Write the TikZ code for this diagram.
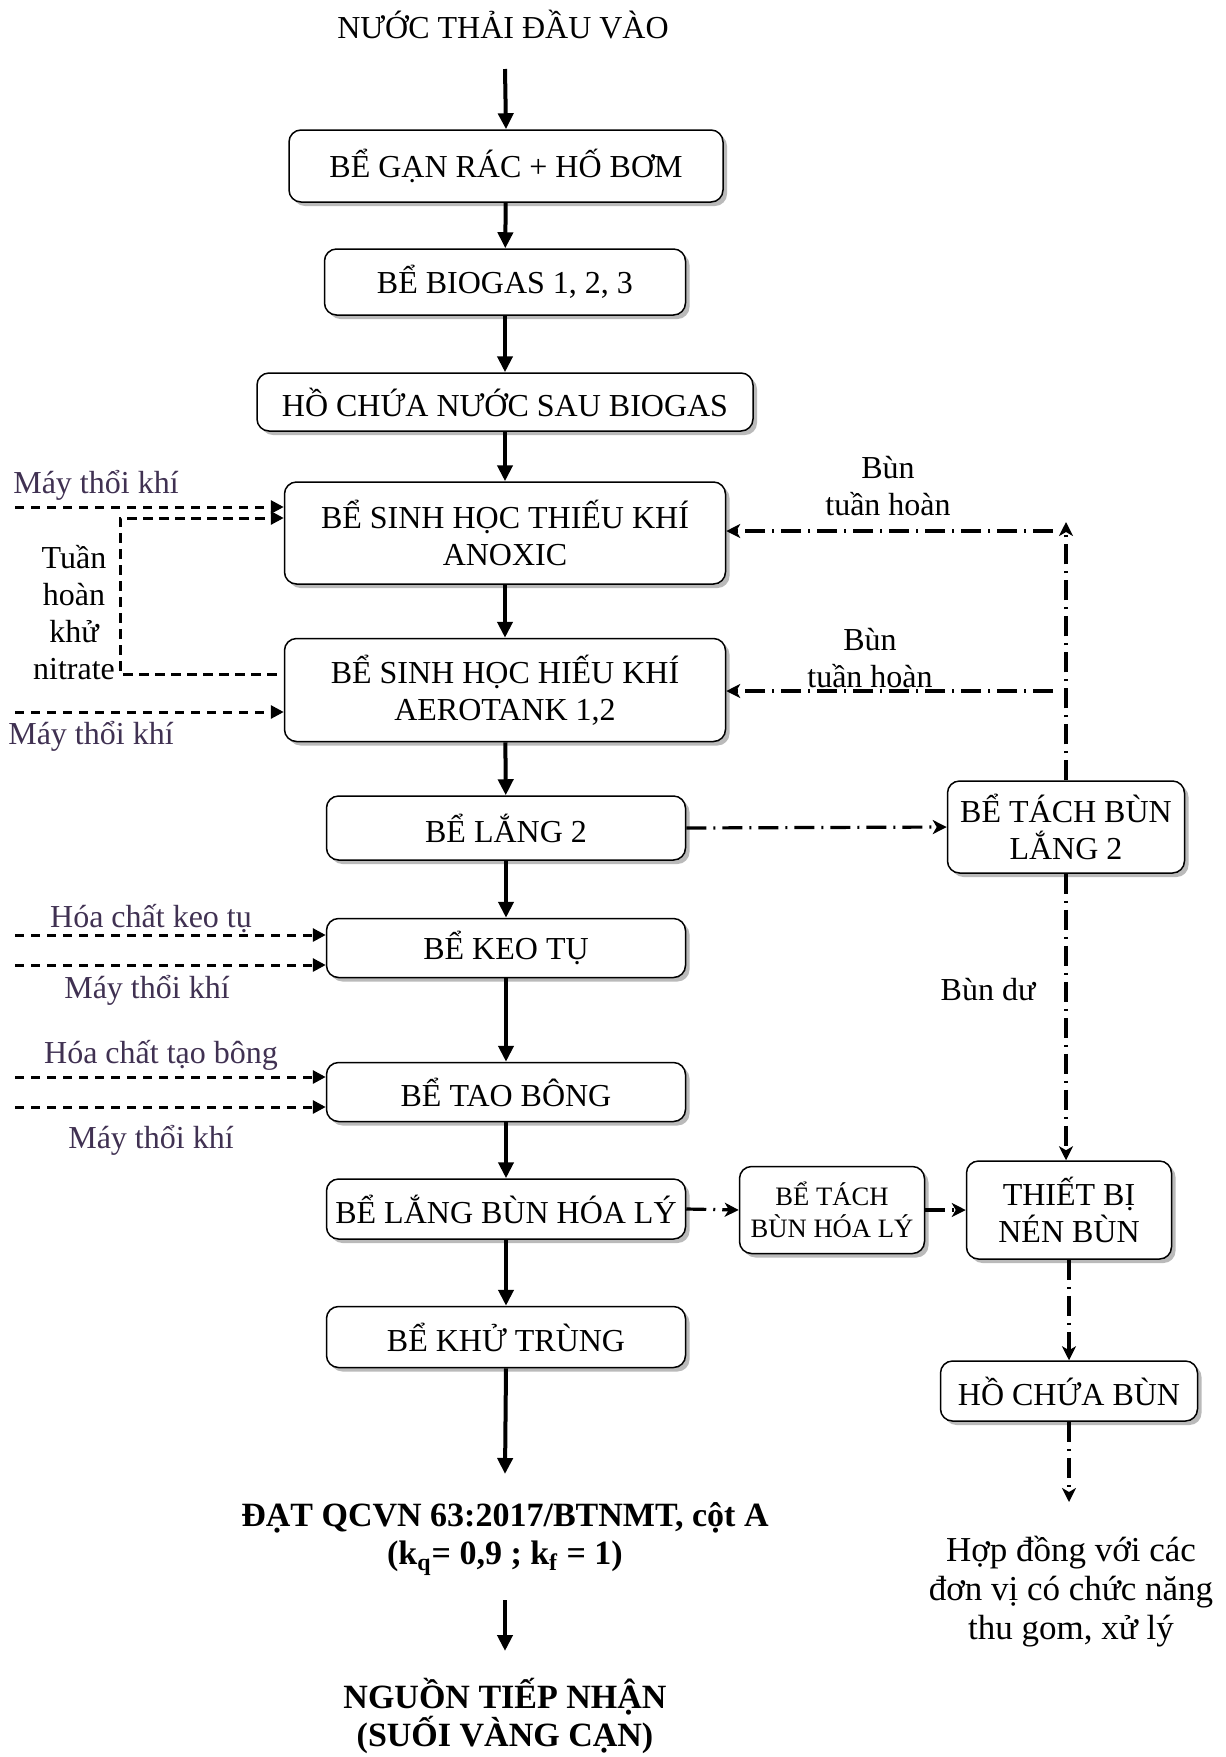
\documentclass[tikz,border=0pt]{standalone}
\usepackage{fontspec}
\setmainfont{Liberation Serif}
\usetikzlibrary{arrows.meta,shadows}
\definecolor{feedtxt}{RGB}{64,49,82}

\begin{document}
\begin{tikzpicture}[x=0.5pt,y=-0.5pt,
  box/.style={draw, rounded corners=6pt, fill=white, line width=0.75pt,
    align=center, inner sep=0pt, font=\fontsize{16}{18.5}\selectfont,
    drop shadow={shadow xshift=2pt, shadow yshift=-2pt, fill=black!27, opacity=1}},
  smallbox/.style={box, font=\fontsize{13.3}{16.3}\selectfont},
  txt/.style={align=center, inner sep=0pt, font=\fontsize{16}{18.5}\selectfont},
  feedlbl/.style={txt, text=feedtxt},
  bold/.style={align=center, inner sep=0pt, font=\fontsize{17}{19}\selectfont\bfseries},
  flow/.style={line width=2pt, -{Triangle[length=8pt,width=7.5pt]}},
  feed/.style={line width=1.5pt, dash pattern=on 4.7pt off 3.3pt, -{Triangle[length=6.5pt,width=6.5pt]}},
  sludge/.style={line width=1.6pt, dash pattern=on 10pt off 3.5pt on 1pt off 3.5pt, -{Stealth[length=7pt,width=7pt,inset=2pt]}}
]
\useasboundingbox (0,0) rectangle (1226,1757);

% main treatment line
\node[txt] (inflow) at (503,25) {NƯỚC THẢI ĐẦU VÀO};
\node[box, minimum width=217pt, minimum height=36pt] (b1) at (506,166) {BỂ GẠN RÁC + HỐ BƠM};
\node[box, minimum width=180.5pt, minimum height=33pt] (b2) at (505,282) {BỂ BIOGAS 1, 2, 3};
\node[box, minimum width=248pt, minimum height=29pt] (b3) at (505,402) {HỒ CHỨA NƯỚC SAU BIOGAS};
\node[box, minimum width=220.5pt, minimum height=51pt] (b4) at (505,533) {BỂ SINH HỌC THIẾU KHÍ\\ANOXIC};
\node[box, minimum width=220.5pt, minimum height=51.5pt] (b5) at (505,690) {BỂ SINH HỌC HIẾU KHÍ\\AEROTANK 1,2};
\node[box, minimum width=179.5pt, minimum height=32pt] (b6) at (506,828) {BỂ LẮNG 2};
\node[box, minimum width=179.5pt, minimum height=29.5pt] (b7) at (506,948) {BỂ KEO TỤ};
\node[box, minimum width=179.5pt, minimum height=29.5pt] (b8) at (506,1092) {BỂ TAO BÔNG};
\node[box, minimum width=179.5pt, minimum height=30pt] (b9) at (506,1209) {BỂ LẮNG BÙN HÓA LÝ};
\node[box, minimum width=179.5pt, minimum height=30.5pt] (b10) at (506,1337) {BỂ KHỬ TRÙNG};
\node[bold] (std) at (505,1539) {ĐẠT QCVN 63:2017/BTNMT, cột A\\(k\textsubscript{q}= 0,9 ; k\textsubscript{f} = 1)};
\node[bold] (recv) at (505,1716) {NGUỒN TIẾP NHẬN\\(SUỐI VÀNG CẠN)};

% sludge line
\node[box, minimum width=118.5pt, minimum height=46pt] (s1) at (1066,827) {BỂ TÁCH BÙN\\LẮNG 2};
\node[smallbox, minimum width=92.5pt, minimum height=43.5pt] (s2) at (832,1210) {BỂ TÁCH\\BÙN HÓA LÝ};
\node[box, minimum width=102.5pt, minimum height=49pt] (s3) at (1069,1210) {THIẾT BỊ\\NÉN BÙN};
\node[box, minimum width=128.5pt, minimum height=30pt] (s4) at (1069,1391) {HỒ CHỨA BÙN};
\node[align=center, inner sep=0pt, font=\fontsize{17.5}{19.5}\selectfont] (contract) at (1071,1592) {Hợp đồng với các\\đơn vị có chức năng\\thu gom, xử lý};

% water flow arrows
\coordinate (inA) at (505,69);
\draw[flow] (inA) -- (b1.north);
\draw[flow] (b1) -- (b2);
\draw[flow] (b2) -- (b3);
\draw[flow] (b3) -- (b4);
\draw[flow] (b4) -- (b5);
\draw[flow] (b5) -- (b6);
\draw[flow] (b6) -- (b7);
\draw[flow] (b7) -- (b8);
\draw[flow] (b8) -- (b9);
\draw[flow] (b9) -- (b10);
\coordinate (outA) at (505,1474);
\draw[flow] (b10.south) -- (outA);
\coordinate (outB) at (505,1600);
\coordinate (outC) at (505,1651);
\draw[flow] (outB) -- (outC);

% air and chemical feeds
\node[feedlbl] (air1) at (96,485) {Máy thổi khí};
\coordinate (f1) at (15,507);
\draw[feed] (f1) -- (f1 -| b4.west);
\coordinate (rc) at (120,518);
\draw[feed] ([xshift=-3.5pt,yshift=8pt]b5.west) -| (rc) -- (rc -| b4.west);
\node[txt] (nitr) at (74,613) {Tuần\\hoàn\\khử\\nitrate};
\coordinate (f2) at (15,712);
\draw[feed] (f2) -- (f2 -| b5.west);
\node[feedlbl] (air2) at (91,736) {Máy thổi khí};

\node[feedlbl] (chem1) at (151,919) {Hóa chất keo tụ};
\coordinate (f3) at (15,935);
\draw[feed] (f3) -- (f3 -| b7.west);
\coordinate (f4) at (15,965);
\draw[feed] (f4) -- (f4 -| b7.west);
\node[feedlbl] (air3) at (147,990) {Máy thổi khí};

\node[feedlbl] (chem2) at (161,1055) {Hóa chất tạo bông};
\coordinate (f5) at (15,1077);
\draw[feed] (f5) -- (f5 -| b8.west);
\coordinate (f6) at (15,1107);
\draw[feed] (f6) -- (f6 -| b8.west);
\node[feedlbl] (air4) at (151,1140) {Máy thổi khí};

% sludge return and handling
\coordinate (up) at (1065,522);
\draw[sludge] (s1.north) -- (s1.north |- up);
\coordinate (r1) at (1053,531);
\draw[sludge] (r1) -- (r1 -| b4.east);
\coordinate (r2) at (1053,691);
\draw[sludge] (r2) -- (r2 -| b5.east);
\node[txt] (ret1) at (888,486) {Bùn\\tuần hoàn};
\node[txt] (ret2) at (870,658) {Bùn\\tuần hoàn};
\draw[sludge] (b6.east) -- (s1.west);
\draw[sludge] (s1.south) -- (s1.south |- s3.north);
\node[txt] (excess) at (988,990) {Bùn dư};
\draw[sludge] (b9.east) -- (s2.west);
\draw[sludge] (s2.east) -- (s3.west);
\draw[sludge] (s3.south) -- (s3.south |- s4.north);
\coordinate (sEnd) at (1069,1502);
\draw[sludge] (s4.south) -- (sEnd);
\end{tikzpicture}
\end{document}
